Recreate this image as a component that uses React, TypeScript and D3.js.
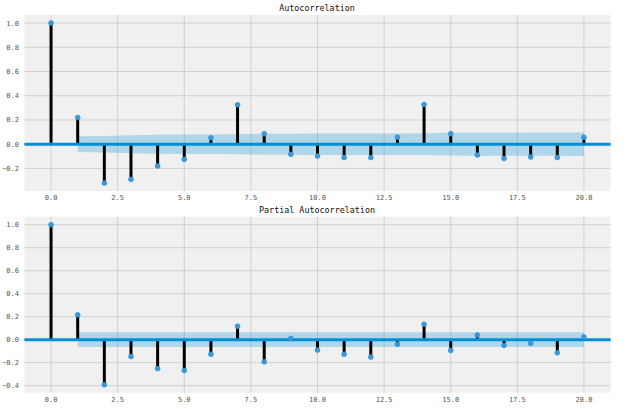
import React from "react";
import * as d3 from "d3";

const lags = d3.range(0, 21);
const acfValues = [1.0, 0.22, -0.32, -0.29, -0.18, -0.125, 0.053, 0.325, 0.087, -0.083, -0.097, -0.11, -0.11, 0.058, 0.328, 0.087, -0.088, -0.117, -0.105, -0.11, 0.058];
const pacfValues = [1.0, 0.216, -0.392, -0.146, -0.252, -0.269, -0.126, 0.117, -0.193, 0.011, -0.091, -0.126, -0.152, -0.041, 0.134, -0.094, 0.04, -0.05, -0.032, -0.114, 0.023];
// confidence band half-widths for lags 1..20
const acfBand = [0.065, 0.068, 0.074, 0.079, 0.081, 0.081, 0.082, 0.087, 0.087, 0.088, 0.088, 0.089, 0.089, 0.09, 0.094, 0.095, 0.095, 0.096, 0.096, 0.097];
const pacfBand = [0.065, 0.065, 0.065, 0.065, 0.065, 0.065, 0.065, 0.065, 0.065, 0.065, 0.065, 0.065, 0.065, 0.065, 0.065, 0.065, 0.065, 0.065, 0.065, 0.065];
const xTicks = [0, 2.5, 5, 7.5, 10, 12.5, 15, 17.5, 20];
const acfYTicks = [-0.2, 0, 0.2, 0.4, 0.6, 0.8, 1.0];
const pacfYTicks = [-0.4, -0.2, 0, 0.2, 0.4, 0.6, 0.8, 1.0];
const titles = ["Autocorrelation", "Partial Autocorrelation"];

const BLUE = "#008fd5";
const MONO = "'DejaVu Sans Mono', 'Liberation Mono', monospace";

type PanelProps = {
  title: string;
  values: number[];
  band: number[];
  yTicks: number[];
  top: number;
  bottom: number;
  titleY: number;
};

function Panel({ title, values, band, yTicks, top, bottom, titleY }: PanelProps) {
  const x = d3.scaleLinear().domain([-1, 21]).range([24.4, 610.6]);
  const [mn, mx] = d3.extent(values) as [number, number];
  const pad = (mx - mn) * 0.05;
  const y = d3.scaleLinear().domain([mn - pad, mx + pad]).range([bottom, top]);
  const bandData = band.map((b, i) => ({ lag: i + 1, b }));
  const area = d3
    .area<{ lag: number; b: number }>()
    .x((d) => x(d.lag))
    .y0((d) => y(-d.b))
    .y1((d) => y(d.b));
  const fmt = d3.format(".1f");
  const [x0, x1] = x.range();
  return (
    <g>
      <rect x={x0} y={top} width={x1 - x0} height={bottom - top} fill="#f0f0f0" />
      {xTicks.map((t) => (
        <line key={"gx" + t} x1={x(t)} x2={x(t)} y1={top} y2={bottom} stroke="#d0d0d0" strokeWidth={1} />
      ))}
      {yTicks.map((t) => (
        <line key={"gy" + t} x1={x0} x2={x1} y1={y(t)} y2={y(t)} stroke="#d0d0d0" strokeWidth={1} />
      ))}
      <path d={area(bandData) || ""} fill={BLUE} fillOpacity={0.27} />
      {values.map((v, i) => (
        <line key={"s" + i} x1={x(lags[i])} x2={x(lags[i])} y1={y(0)} y2={y(v)} stroke="#000" strokeWidth={3} />
      ))}
      <line x1={x0} x2={x1} y1={y(0)} y2={y(0)} stroke={BLUE} strokeWidth={3} />
      {values.map((v, i) => (
        <circle key={"m" + i} cx={x(lags[i])} cy={y(v)} r={2.5} fill="#3a9ad9" stroke="#2f8fd0" strokeWidth={0.5} />
      ))}
      {xTicks.map((t) => (
        <text key={"tx" + t} x={x(t)} y={bottom + 9} textAnchor="middle" fontSize={7} fill="#555" fontFamily={MONO}>
          {fmt(t)}
        </text>
      ))}
      {yTicks.map((t) => (
        <text key={"ty" + t} x={19} y={y(t) + 2.5} textAnchor="end" fontSize={7} fill="#555" fontFamily={MONO}>
          {fmt(t)}
        </text>
      ))}
      <text x={317} y={titleY} textAnchor="middle" fontSize={8.4} fill="#111" fontFamily={MONO}>
        {title}
      </text>
    </g>
  );
}

export default function App() {
  return (
    <div style={{ position: "absolute", left: 0, top: 0 }}>
      <svg width={640} height={409} style={{ display: "block", background: "#fff" }}>
        <Panel title={titles[0]} values={acfValues} band={acfBand} yTicks={acfYTicks} top={15} bottom={191} titleY={11} />
        <Panel title={titles[1]} values={pacfValues} band={pacfBand} yTicks={pacfYTicks} top={216.7} bottom={392.7} titleY={213} />
      </svg>
    </div>
  );
}
